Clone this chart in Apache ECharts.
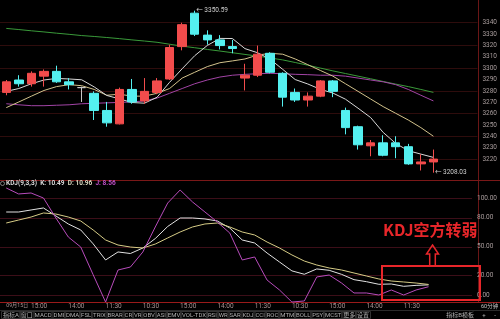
<!DOCTYPE html>
<html><head><meta charset="utf-8">
<script src="https://cdn.jsdelivr.net/npm/echarts@6.0.0/dist/echarts.min.js"></script>
<style>html,body{margin:0;padding:0;background:#000;overflow:hidden}#chart{width:500px;height:319px}</style>
</head><body><div id="chart"></div>
<script>
// ---- categories ----
const times = ['11:30','14:00','15:00','10:30','11:30','14:00','15:00','10:30','11:30','14:00','15:00','10:30',
  '11:30','14:00','15:00','10:30','11:30','14:00','15:00','10:30','11:30','14:00','15:00','10:30',
  '11:30','14:00','15:00','10:30','11:30','14:00','15:00','10:30','11:30','14:00','15:00'];
const dateLabel = '09月15日';
const labelIndex = [0,2,5,8,11,14,17,20,23,26,29,32];
const periodLabel = '60分钟';

// ---- candles ----
const opens  = [3278.7,3289.6,3286.3,3293.0,3297.2,3288.0,3282.9,3277.9,3262.8,3251.0,3281.3,3271.2,3278.7,3290.5,3319.0,3348.4,3329.1,3324.9,3319.0,3291.3,3293.8,3313.1,3295.5,3278.7,3272.0,3275.4,3288.8,3262.8,3248.5,3231.7,3234.3,3234.3,3230.9,3215.8,3217.5];
const closes = [3288.0,3286.3,3295.5,3297.2,3288.0,3285.5,3282.9,3262.8,3251.9,3281.3,3270.3,3279.6,3288.8,3318.2,3338.3,3329.9,3324.9,3319.9,3317.3,3293.8,3312.3,3296.4,3274.5,3272.0,3275.4,3288.8,3279.6,3247.7,3232.6,3234.3,3223.4,3230.9,3215.8,3217.5,3220.0];
const lows   = [3276.2,3283.8,3283.8,3283.8,3287.1,3281.3,3270.3,3254.4,3248.5,3250.5,3268.7,3268.7,3277.1,3289.6,3315.7,3328.3,3320.7,3316.5,3313.1,3280.4,3292.2,3295.5,3266.2,3270.3,3266.2,3274.5,3274.5,3241.8,3228.4,3222.5,3222.5,3220.8,3215.0,3210.0,3208.03];
const highs  = [3289.6,3293.8,3297.2,3298.9,3302.2,3291.3,3283.8,3279.6,3270.3,3282.9,3290.5,3291.3,3291.3,3320.7,3340.0,3350.59,3333.3,3329.1,3324.9,3303.9,3319.9,3314.0,3296.4,3282.1,3278.7,3289.6,3289.6,3265.3,3249.4,3236.8,3241.0,3240.1,3233.4,3224.2,3228.4];

// ---- moving averages ----
const ma5  = [3279.6,3282.1,3286.3,3289.6,3291.0,3290.5,3289.8,3283.5,3276.0,3273.0,3269.8,3269.2,3274.4,3287.6,3299.5,3311.0,3320.0,3326.2,3326.1,3317.2,3313.6,3307.9,3299.0,3290.0,3286.1,3281.4,3278.1,3272.7,3264.8,3256.6,3243.5,3233.8,3227.4,3224.4,3221.5];
const ma10 = [3265.3,3270.3,3275.4,3280.4,3283.8,3285.5,3284.6,3281.3,3276.2,3277.1,3275.4,3275.4,3277.9,3282.1,3291.3,3296.4,3301.4,3304.8,3306.4,3308.1,3311.5,3313.1,3312.3,3308.1,3303.1,3298.0,3293.0,3286.3,3279.6,3272.9,3266.2,3260.3,3254.4,3247.7,3240.1];
const ma20 = [3268.7,3267.8,3267.0,3267.0,3267.4,3267.8,3268.7,3269.1,3269.5,3269.9,3270.3,3271.2,3273.7,3277.9,3282.1,3286.3,3289.6,3292.2,3293.8,3294.6,3295.1,3295.5,3295.1,3294.6,3294.3,3293.8,3293.8,3293.0,3291.3,3289.6,3288.0,3285.5,3281.3,3276.2,3271.2];
const ma60 = [3335.0,3334.0,3332.9,3331.9,3330.8,3329.8,3328.7,3327.9,3327.0,3326.0,3324.9,3323.9,3322.8,3321.1,3319.4,3318.0,3316.5,3315.1,3313.6,3312.1,3310.6,3309.0,3307.3,3305.0,3302.6,3300.1,3297.6,3295.3,3293.0,3290.7,3288.3,3286.0,3283.8,3281.3,3278.7];

// ---- KDJ ----
const kVals = [86.0,86.0,88.1,90.2,81.9,73.6,67.4,53.0,36.3,44.6,43.0,48.7,58.5,71.0,79.8,79.8,78.8,76.7,69.4,57.0,53.9,43.5,34.2,25.0,21.5,27.0,25.6,21.4,15.9,13.8,11.1,11.4,9.0,10.0,10.49];
const dVals = [74.6,77.7,80.8,85.0,83.9,80.8,76.7,67.4,57.0,51.8,49.7,48.7,52.8,59.1,65.3,70.5,73.6,74.6,70.5,65.3,62.2,54.9,48.7,41.5,35.2,31.1,28.0,25.9,22.8,19.7,16.6,14.5,13.5,12.4,10.96];
const jVals = [110.9,104.7,105.7,100.5,79.8,60.1,49.7,21.0,-7.3,25.9,29.0,44.6,70.5,95.3,108.8,96.4,86.0,75.6,64.2,36.3,39.4,15.5,5.2,-7.3,-6.2,18.7,20.7,12.4,2.1,2.1,0.0,5.2,0.0,5.2,8.56];
const jLast = 8.56;

// ---- tick labels ----
const priceLabels = [3220,3230,3240,3250,3260,3270,3280,3290,3300,3310,3320,3330,3340];
const priceGrid = [3220,3240,3260,3280,3300,3320,3340];
const kdjLabels = [0,20,50,80,100];

// ---- texts ----
const toolbarItems = ['指标A','窗口','MACD','DMI','DMA','FSL','TRIX','BRAR','CR','VR','OBV','ASI','EMV','VOL-TDX','RSI','WR','SAR','KDJ','CCI','ROC','MTM','BOLL','PSY','MCST','更多','设置'];
const noteText = 'KDJ空方转弱';

// ================= build =================
const FONT = 'Roboto, "Noto Sans CJK SC", sans-serif';
const RED = '#f24c4c', CYAN = '#54f0f0';
const cats = times.concat(['', '', '']);
const candleData = opens.map((o, i) => [o, closes[i], lows[i], highs[i]]);

const priceSplitColors = [];
for (let v = 3200; v <= 3360; v += 10) priceSplitColors.push(priceGrid.indexOf(v) >= 0 ? '#2e0c0c' : 'rgba(0,0,0,0)');
const kdjSplitColors = [];
for (let v = 0; v <= 100; v += 10) kdjSplitColors.push(kdjLabels.indexOf(v) >= 0 ? '#3c0e18' : 'rgba(0,0,0,0)');

const pxPerUnit = 143 / 120;
const mainTop = 15 - 20 * pxPerUnit;
const mainH = 160 * pxPerUnit;

function lineS(name, data, color, xi, yi) {
  return { name, type: 'line', data, xAxisIndex: xi, yAxisIndex: yi, symbol: 'none', clip: false,
    lineStyle: { color, width: 1 }, itemStyle: { color }, silent: true, z: 3 };
}

// toolbar layout
const cvs = document.createElement('canvas').getContext('2d');
cvs.font = '6px ' + FONT;
const widths = toolbarItems.map(t => cvs.measureText(t).width + 3);
const totalW = widths.reduce((a, b) => a + b, 0);
const gap = (370 - 1 - totalW) / (toolbarItems.length - 1);
const graphics = [];
let tx = 1;
toolbarItems.forEach((t, i) => {
  graphics.push({ type: 'rect', shape: { x: tx + 0.5, y: 311.5, width: widths[i], height: 7 },
    style: { fill: 'none', stroke: '#333', lineWidth: 1 }, silent: true });
  graphics.push({ type: 'text', x: tx + widths[i] / 2 + 0.5, y: 315, style: { text: t, fill: '#b0b0b0',
    font: '6px ' + FONT, textAlign: 'center', textVerticalAlign: 'middle' }, silent: true });
  tx += widths[i] + gap;
});
[['指标B', 454], ['模板', 468], ['+', 484], ['-', 495]].forEach(p => {
  graphics.push({ type: 'text', x: p[1], y: 315, style: { text: p[0], fill: '#b0b0b0', font: '6px ' + FONT,
    textAlign: 'center', textVerticalAlign: 'middle' }, silent: true });
});
// frame lines
graphics.push({ type: 'line', shape: { x1: 478.5, y1: 0, x2: 478.5, y2: 303 }, style: { stroke: '#6a1616', lineWidth: 1 }, silent: true });
graphics.push({ type: 'line', shape: { x1: 0, y1: 180.5, x2: 500, y2: 180.5 }, style: { stroke: '#7a1818', lineWidth: 1 }, silent: true });
graphics.push({ type: 'line', shape: { x1: 0, y1: 302.5, x2: 500, y2: 302.5 }, style: { stroke: '#9a1a1a', lineWidth: 1 }, silent: true });
graphics.push({ type: 'line', shape: { x1: 0, y1: 310.5, x2: 500, y2: 310.5 }, style: { stroke: '#2a2a2a', lineWidth: 1 }, silent: true });
graphics.push({ type: 'text', x: 481, y: 307, style: { text: periodLabel, fill: '#c0c0c0', font: '5.5px ' + FONT,
  textVerticalAlign: 'middle' }, silent: true });
graphics.push({ type: 'circle', shape: { cx: 2.5, cy: 183.5, r: 2 }, style: { fill: 'none', stroke: '#999', lineWidth: 0.8 }, silent: true });
// annotation
graphics.push({ type: 'text', x: 383, y: 230, style: { text: noteText, fill: '#e8262a',
  font: 'bold 16px "Noto Sans CJK SC", sans-serif', textVerticalAlign: 'middle' }, silent: true, z: 20 });
graphics.push({ type: 'polygon', shape: { points: [[432.5, 245], [438.5, 254], [435.3, 254], [435.3, 266], [429.7, 266], [429.7, 254], [426.5, 254]] },
  style: { fill: 'none', stroke: '#e8262a', lineWidth: 1.5 }, silent: true, z: 20 });
graphics.push({ type: 'rect', shape: { x: 382, y: 266, width: 98, height: 34 },
  style: { fill: 'none', stroke: '#e8262a', lineWidth: 2 }, silent: true, z: 20 });

const option = {
  backgroundColor: '#000',
  animation: false,
  textStyle: { fontFamily: FONT },
  title: {
    left: 6, top: 180, padding: 0,
    text: '{k|KDJ(9,3,3)  K: ' + kVals[kVals.length - 1].toFixed(2) + '}  {d|D: ' + dVals[dVals.length - 1].toFixed(2) + '}  {j|J: ' + jLast.toFixed(2) + '}',
    textStyle: { fontSize: 6.5, rich: {
      k: { color: '#d8d8d8', fontSize: 6.5, fontFamily: FONT },
      d: { color: '#d8d8c0', fontSize: 6.5, fontFamily: FONT },
      j: { color: '#c050c8', fontSize: 6.5, fontFamily: FONT } } }
  },
  grid: [
    { left: -2, width: 480, top: mainTop, height: mainH },
    { left: -2, width: 480, top: 198.5, height: 96.5 }
  ],
  xAxis: [
    { type: 'category', gridIndex: 0, data: cats, boundaryGap: true,
      axisLine: { show: false }, axisTick: { show: false }, axisLabel: { show: false }, splitLine: { show: false } },
    { type: 'category', gridIndex: 1, data: cats, boundaryGap: true,
      axisLine: { show: false }, axisTick: { show: false }, splitLine: { show: false },
      axisLabel: { show: true, interval: (idx) => labelIndex.indexOf(idx) >= 0, align: 'left', margin: 8,
        showMinLabel: true, hideOverlap: false,
        fontSize: 6.5, color: '#a89494', fontFamily: FONT,
        rich: { dt: { fontSize: 5.2, color: '#a89494', fontFamily: FONT } },
        formatter: (val, idx) => idx === 0 ? '{dt|' + dateLabel + '}' : val } }
  ],
  yAxis: [
    { type: 'value', gridIndex: 0, position: 'right', min: 3200, max: 3360, interval: 10,
      axisLine: { show: false }, axisTick: { show: false },
      axisLabel: { margin: 5, fontSize: 6.5, color: '#a89c9c', fontFamily: FONT,
        formatter: v => priceLabels.indexOf(v) >= 0 ? String(v) : '' },
      splitLine: { show: true, lineStyle: { color: priceSplitColors, width: 1 } } },
    { type: 'value', gridIndex: 1, position: 'right', min: 0, max: 100, interval: 10,
      axisLine: { show: false }, axisTick: { show: false },
      axisLabel: { margin: 5, fontSize: 6.5, color: '#a89c9c', fontFamily: FONT,
        formatter: v => kdjLabels.indexOf(v) >= 0 ? v.toFixed(2) : '' },
      splitLine: { show: true, lineStyle: { color: kdjSplitColors, width: 1 } } }
  ],
  series: [
    { type: 'candlestick', data: candleData, xAxisIndex: 0, yAxisIndex: 0, barWidth: 9, clip: false, z: 4,
      itemStyle: { color: RED, color0: CYAN, borderColor: RED, borderColor0: CYAN, borderColorDoji: '#c8c8c8', borderWidth: 1 },
      markPoint: {
        symbol: 'circle', symbolSize: 1, itemStyle: { color: 'rgba(0,0,0,0)' },
        label: { show: true, position: 'right', distance: 1, fontSize: 6.5, color: '#cfcfcf', fontFamily: FONT,
          formatter: p => '← ' + Number(p.value).toFixed(2) },
        data: [ { type: 'max', valueDim: 'highest' }, { type: 'min', valueDim: 'lowest' } ]
      } },
    lineS('MA60', ma60, '#3a9a3a', 0, 0),
    lineS('MA20', ma20, '#a244a6', 0, 0),
    lineS('MA10', ma10, '#d2c28c', 0, 0),
    lineS('MA5', ma5, '#d8d8d8', 0, 0),
    lineS('K', kVals, '#e2e2e2', 1, 1),
    lineS('D', dVals, '#d6cc86', 1, 1),
    lineS('J', jVals, '#b84cbc', 1, 1)
  ],
  graphic: graphics
};
const chart = echarts.init(document.getElementById('chart'), null, { renderer: 'canvas' });
chart.setOption(option);
</script>
</body></html>
